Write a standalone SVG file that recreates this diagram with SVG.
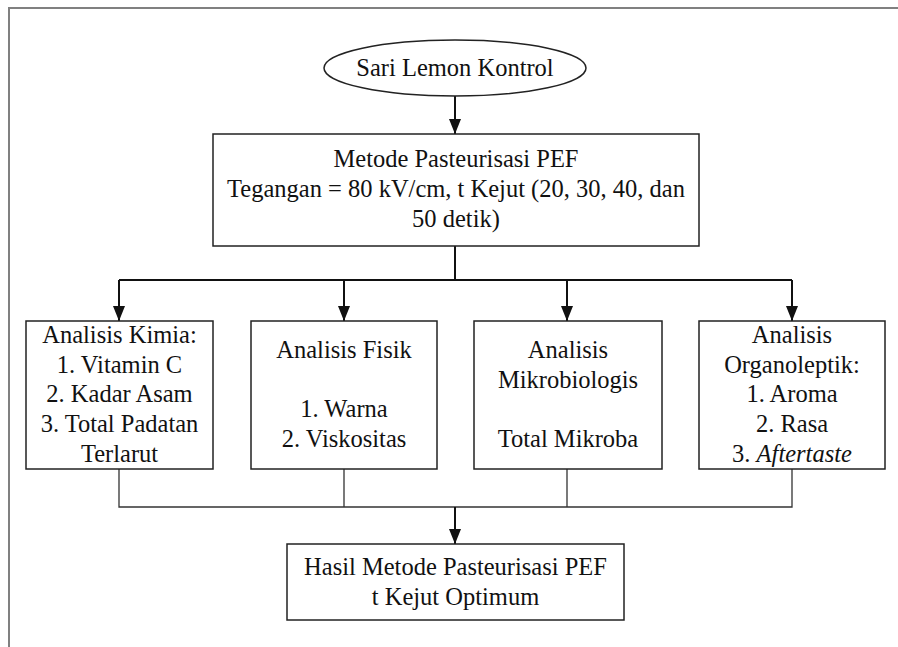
<svg xmlns="http://www.w3.org/2000/svg" width="898" height="647" viewBox="0 0 898 647">
<defs>
<marker id="arr" markerWidth="15" markerHeight="12" refX="15" refY="6" orient="auto" markerUnits="userSpaceOnUse" viewBox="0 0 15 12">
<path d="M0,0 L15,6 L0,12 Z" fill="#111"/>
</marker>
<style>
text{font-family:'Liberation Serif','Times New Roman',serif;font-size:24.5px;fill:#111;text-anchor:middle}
.box{fill:#fff;stroke:#222;stroke-width:1.5}
.c{fill:none;stroke:#111;stroke-width:2}
.cb{fill:none;stroke:#333;stroke-width:1.3}
.frame{fill:none;stroke:#808080;stroke-width:2}
</style>
</defs>
<rect width="898" height="647" fill="#fff"/>
<path class="frame" d="M9,647 V8 H898"/>
<g id="connectors">
<path class="c" d="M455,96 V134" marker-end="url(#arr)"/>
<path class="c" d="M455,246 V280"/>
<path class="c" d="M119,280 H792"/>
<path class="c" d="M119,280 V321" marker-end="url(#arr)"/>
<path class="c" d="M344,280 V321" marker-end="url(#arr)"/>
<path class="c" d="M567,280 V321" marker-end="url(#arr)"/>
<path class="c" d="M792,280 V321" marker-end="url(#arr)"/>
<path class="cb" d="M119,469 V507 H792 V469 M344,469 V507 M567,469 V507"/>
<path class="c" d="M455,507 V544" marker-end="url(#arr)"/>
</g>
<g id="start">
<ellipse class="box" cx="455" cy="68" rx="131" ry="28"/>
<text x="455" y="76" font-family="Liberation Serif, serif">Sari Lemon Kontrol</text>
</g>
<g id="metode" font-family="Liberation Serif, serif">
<rect class="box" x="213" y="134" width="486" height="112"/>
<text x="456" y="167">Metode Pasteurisasi PEF</text>
<text x="456" y="197">Tegangan = 80 kV/cm, t Kejut (20, 30, 40, dan</text>
<text x="456" y="227">50 detik)</text>
</g>
<g id="kimia">
<rect class="box" x="26" y="321" width="187" height="148"/>
<text x="119.5" y="343">Analisis Kimia:</text>
<text x="119.5" y="373">1. Vitamin C</text>
<text x="119.5" y="402">2. Kadar Asam</text>
<text x="119.5" y="432">3. Total Padatan</text>
<text x="119.5" y="462">Terlarut</text>
</g>
<g id="fisik">
<rect class="box" x="251" y="321" width="186" height="148"/>
<text x="344" y="358">Analisis Fisik</text>
<text x="344" y="417">1. Warna</text>
<text x="344" y="447">2. Viskositas</text>
</g>
<g id="mikro">
<rect class="box" x="474" y="321" width="188" height="148"/>
<text x="568" y="358">Analisis</text>
<text x="568" y="388">Mikrobiologis</text>
<text x="568" y="447">Total Mikroba</text>
</g>
<g id="organo">
<rect class="box" x="699" y="321" width="186" height="148"/>
<text x="792" y="343">Analisis</text>
<text x="792" y="373">Organoleptik:</text>
<text x="792" y="402">1. Aroma</text>
<text x="792" y="432">2. Rasa</text>
<text x="792" y="462">3. <tspan font-style="italic">Aftertaste</tspan></text>
</g>
<g id="hasil">
<rect class="box" x="287" y="544" width="337" height="76"/>
<text x="455.5" y="575">Hasil Metode Pasteurisasi PEF</text>
<text x="455.5" y="605">t Kejut Optimum</text>
</g>
</svg>
